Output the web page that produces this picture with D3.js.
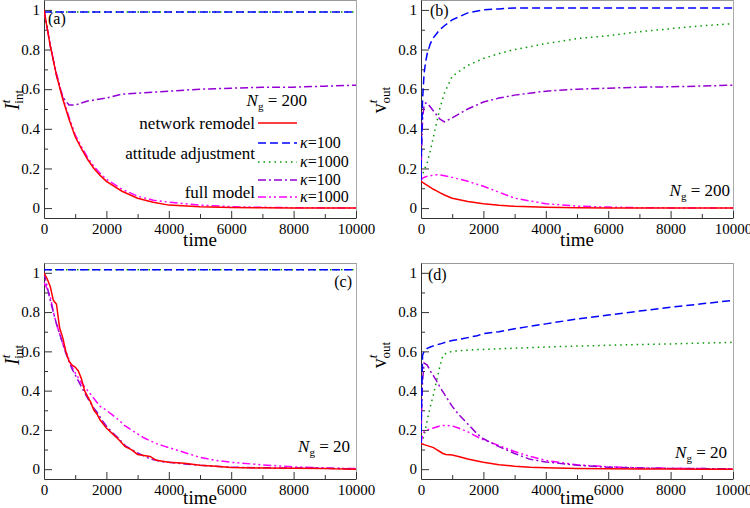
<!DOCTYPE html>
<html>
<head>
<meta charset="utf-8">
<script src="https://cdn.jsdelivr.net/npm/d3@7"></script>
<style>
  body { margin: 0; background: #fff; }
  svg text { font-family: "Liberation Serif", "DejaVu Serif", "Times New Roman", serif; }
</style>
</head>
<body>
<svg id="chart" width="750" height="508"></svg>
<script>
// time grids
const tA = [0, 200, 400, 600, 800, 1000, 1200, 1400, 1600, 1800, 2000, 2500, 3000, 3500, 4000, 5000, 6000, 7000, 8000, 9000, 10000];
const tB = [0, 20, 50, 100, 150, 200, 300, 400, 500, 600, 750, 1000, 1500, 2000, 2500, 3000, 4000, 5000, 6000, 7000, 8000, 9000, 10000];
const tC = [0, 100, 200, 300, 400, 500, 600, 700, 800, 900, 1000, 1100, 1200, 1300, 1400, 1500, 1600, 1700, 1800, 1900, 2000, 2200, 2400, 2600, 2800, 3000, 3200, 3400, 3600, 3800, 4000, 4500, 5000, 5500, 6000, 7000, 8000, 9000, 9300, 10000];
const tD = [0, 20, 50, 100, 200, 300, 400, 500, 600, 700, 800, 1000, 1200, 1500, 1800, 2000, 2500, 3000, 3500, 4000, 5000, 6000, 7000, 8000, 9000, 10000];
const tFlat = [0, 10000];

// (a) I_int, N_g = 200
const aRemodel = [1.0, 0.82, 0.67, 0.55, 0.45, 0.36, 0.30, 0.245, 0.20, 0.165, 0.135, 0.085, 0.05, 0.03, 0.015, 0.007, 0.003, 0.002, 0.001, 0.0005, 0];
const aAtt100 = [0.99, 0.99];
const aAtt1000 = [0.99, 0.99];
const aFull100 = [1.0, 0.82, 0.67, 0.56, 0.52, 0.52, 0.53, 0.54, 0.545, 0.55, 0.555, 0.575, 0.58, 0.585, 0.59, 0.6, 0.605, 0.61, 0.61, 0.615, 0.62];
const aFull1000 = [1.0, 0.82, 0.68, 0.56, 0.46, 0.37, 0.31, 0.255, 0.21, 0.175, 0.145, 0.095, 0.06, 0.04, 0.03, 0.015, 0.007, 0.004, 0.002, 0.001, 0.001];

// (b) v_out, N_g = 200
const bRemodel = [0.135, 0.133, 0.13, 0.125, 0.12, 0.115, 0.105, 0.095, 0.087, 0.078, 0.066, 0.05, 0.033, 0.022, 0.014, 0.009, 0.004, 0.002, 0.001, 0.0005, 0, 0, 0];
const bAtt100 = [0.14, 0.35, 0.55, 0.68, 0.74, 0.78, 0.83, 0.86, 0.88, 0.9, 0.92, 0.95, 0.985, 1.0, 1.005, 1.01, 1.01, 1.01, 1.01, 1.01, 1.01, 1.01, 1.01];
const bAtt1000 = [0.15, 0.16, 0.17, 0.19, 0.21, 0.23, 0.29, 0.36, 0.43, 0.5, 0.58, 0.665, 0.72, 0.755, 0.78, 0.8, 0.83, 0.855, 0.87, 0.89, 0.905, 0.92, 0.93];
const bFull100 = [0.15, 0.3, 0.45, 0.52, 0.53, 0.53, 0.51, 0.49, 0.47, 0.45, 0.435, 0.455, 0.5, 0.535, 0.555, 0.57, 0.59, 0.6, 0.605, 0.61, 0.612, 0.616, 0.62];
const bFull1000 = [0.14, 0.145, 0.15, 0.155, 0.158, 0.16, 0.163, 0.166, 0.168, 0.167, 0.163, 0.155, 0.135, 0.11, 0.08, 0.05, 0.022, 0.01, 0.005, 0.002, 0.001, 0.001, 0];

// (c) I_int, N_g = 20
const cRemodel = [1.0, 0.97, 0.93, 0.86, 0.84, 0.72, 0.67, 0.6, 0.55, 0.53, 0.52, 0.5, 0.46, 0.4, 0.37, 0.34, 0.3, 0.28, 0.25, 0.23, 0.21, 0.18, 0.15, 0.115, 0.1, 0.075, 0.07, 0.065, 0.045, 0.04, 0.035, 0.03, 0.02, 0.015, 0.008, 0.006, 0.005, 0.004, 0.002, 0];
const cAtt100 = [1.015, 1.015];
const cAtt1000 = [1.015, 1.015];
const cFull100 = [1.0, 0.93, 0.86, 0.8, 0.74, 0.69, 0.64, 0.59, 0.55, 0.51, 0.48, 0.45, 0.42, 0.39, 0.36, 0.335, 0.31, 0.29, 0.265, 0.24, 0.22, 0.185, 0.155, 0.12, 0.1, 0.083, 0.068, 0.052, 0.045, 0.038, 0.035, 0.027, 0.02, 0.015, 0.01, 0.007, 0.006, 0.005, 0.004, 0];
const cFull1000 = [0.95, 0.92, 0.88, 0.8, 0.74, 0.69, 0.64, 0.6, 0.56, 0.52, 0.49, 0.465, 0.44, 0.42, 0.4, 0.38, 0.36, 0.34, 0.32, 0.31, 0.3, 0.275, 0.25, 0.22, 0.2, 0.18, 0.16, 0.145, 0.13, 0.12, 0.11, 0.085, 0.06, 0.045, 0.035, 0.022, 0.012, 0.006, 0.005, 0.003];

// (d) v_out, N_g = 20
const dRemodel = [0.13, 0.13, 0.128, 0.125, 0.12, 0.115, 0.11, 0.1, 0.09, 0.08, 0.075, 0.072, 0.065, 0.052, 0.042, 0.035, 0.023, 0.015, 0.01, 0.007, 0.004, 0.002, 0.001, 0.001, 0, 0];
const dAtt100 = [0.13, 0.35, 0.58, 0.6, 0.615, 0.622, 0.628, 0.633, 0.637, 0.642, 0.647, 0.655, 0.66, 0.67, 0.68, 0.69, 0.7, 0.715, 0.728, 0.74, 0.765, 0.785, 0.805, 0.825, 0.842, 0.86];
const dAtt1000 = [0.13, 0.14, 0.15, 0.17, 0.25, 0.32, 0.38, 0.45, 0.52, 0.58, 0.59, 0.6, 0.603, 0.606, 0.609, 0.61, 0.613, 0.616, 0.619, 0.622, 0.627, 0.631, 0.635, 0.638, 0.642, 0.646];
const dFull100 = [0.13, 0.3, 0.45, 0.54, 0.53, 0.5, 0.475, 0.45, 0.42, 0.395, 0.37, 0.32, 0.28, 0.23, 0.18, 0.155, 0.115, 0.08, 0.05, 0.037, 0.02, 0.01, 0.006, 0.004, 0.003, 0.002];
const dFull1000 = [0.13, 0.15, 0.17, 0.19, 0.2, 0.205, 0.21, 0.215, 0.22, 0.222, 0.223, 0.22, 0.21, 0.19, 0.165, 0.15, 0.12, 0.09, 0.065, 0.045, 0.022, 0.012, 0.007, 0.005, 0.003, 0.002];

const xTicks = [0, 2000, 4000, 6000, 8000, 10000];
const yTicks = [0, 0.2, 0.4, 0.6, 0.8, 1];

// line styles, one per series kind
const styles = {
  remodel: { color: "#ff0000", dash: null },
  att100: { color: "#0000ff", dash: "8,4" },
  att1000: { color: "#009a00", dash: "1.5,4" },
  full100: { color: "#9400d3", dash: "8,3,2,3" },
  full1000: { color: "#ff00ff", dash: "8,3,2,3,2,3" },
};

const panels = [
  { id: "a", x0: 44, x1: 356, y0: 0, y1: 218, ylab: "I", ysub: "int", ng: "200",
    series: [["att1000", tFlat, aAtt1000], ["att100", tFlat, aAtt100], ["full1000", tA, aFull1000], ["full100", tA, aFull100], ["remodel", tA, aRemodel]] },
  { id: "b", x0: 421, x1: 733, y0: 0, y1: 218, ylab: "v", ysub: "out", ng: "200",
    series: [["att1000", tB, bAtt1000], ["full1000", tB, bFull1000], ["full100", tB, bFull100], ["att100", tB, bAtt100], ["remodel", tB, bRemodel]] },
  { id: "c", x0: 44, x1: 356, y0: 263, y1: 479, ylab: "I", ysub: "int", ng: "20",
    series: [["att1000", tFlat, cAtt1000], ["att100", tFlat, cAtt100], ["full1000", tC, cFull1000], ["full100", tC, cFull100], ["remodel", tC, cRemodel]] },
  { id: "d", x0: 421, x1: 733, y0: 263, y1: 479, ylab: "v", ysub: "out", ng: "20",
    series: [["att1000", tD, dAtt1000], ["full1000", tD, dFull1000], ["full100", tD, dFull100], ["att100", tD, dAtt100], ["remodel", tD, dRemodel]] },
];

const svg = d3.select("#chart");

panels.forEach(p => {
  const x = d3.scaleLinear().domain([0, 10000]).range([p.x0, p.x1]);
  const y = d3.scaleLinear().domain([-0.05, 1.05]).range([p.y1, p.y0]);
  const g = svg.append("g");

  g.append("clipPath").attr("id", "clip-" + p.id)
    .append("rect").attr("x", p.x0).attr("y", p.y0).attr("width", p.x1 - p.x0).attr("height", p.y1 - p.y0);

  // frame: top/right lighter
  g.append("line").attr("x1", p.x0).attr("x2", p.x1).attr("y1", p.y0 + 0.5).attr("y2", p.y0 + 0.5).attr("stroke", "#999");
  g.append("line").attr("x1", p.x1 + 0.5).attr("x2", p.x1 + 0.5).attr("y1", p.y0).attr("y2", p.y1).attr("stroke", "#aaa");

  // axes with inward ticks
  const xAxis = d3.axisBottom(x).tickValues(xTicks).tickFormat(d3.format("d")).tickSizeInner(-7).tickSizeOuter(0).tickPadding(5);
  const gx = g.append("g").attr("transform", `translate(0,${p.y1})`).call(xAxis).attr("font-family", null);
  gx.selectAll("text").attr("font-size", 15).attr("fill", "#000");
  gx.selectAll("line, path").attr("stroke", "#333");
  g.append("g").attr("transform", `translate(0,${p.y1})`)
    .call(d3.axisBottom(x).tickValues(d3.range(1000, 10000, 2000)).tickSize(-4).tickFormat(""))
    .call(s => s.select("path").remove())
    .selectAll("line").attr("stroke", "#333");

  const yAxis = d3.axisLeft(y).tickValues(yTicks).tickFormat(d3.format("")).tickSizeInner(-8).tickSizeOuter(0).tickPadding(4);
  const gy = g.append("g").attr("transform", `translate(${p.x0},0)`).call(yAxis).attr("font-family", null);
  gy.selectAll("text").attr("font-size", 15).attr("fill", "#000");
  gy.selectAll("line, path").attr("stroke", "#333");
  g.append("g").attr("transform", `translate(${p.x0},0)`)
    .call(d3.axisLeft(y).tickValues([0.1, 0.3, 0.5, 0.7, 0.9]).tickSize(-4).tickFormat(""))
    .call(s => s.select("path").remove())
    .selectAll("line").attr("stroke", "#333");

  // curves
  const line = d3.line().x(d => x(d[0])).y(d => y(d[1]));
  p.series.forEach(([kind, ts, vs]) => {
    const st = styles[kind];
    g.append("path")
      .datum(ts.map((t, i) => [t, vs[i]]))
      .attr("clip-path", `url(#clip-${p.id})`)
      .attr("d", line)
      .attr("fill", "none")
      .attr("stroke", st.color)
      .attr("stroke-width", 1.5)
      .attr("stroke-dasharray", st.dash);
  });

  // x label
  g.append("text").attr("x", (p.x0 + p.x1) / 2).attr("y", p.y1 + (p.y0 > 0 ? 25 : 28))
    .attr("text-anchor", "middle").attr("font-size", 19).text("time");

  // y label
  const ly = p.y0 + (p.id === "c" || p.id === "d" ? 92 : 100);
  const lx = p.id === "a" || p.id === "c" ? 19 : 386;
  const yl = g.append("text").attr("transform", `translate(${lx},${ly}) rotate(-90)`)
    .attr("text-anchor", "middle").attr("font-size", 20);
  yl.append("tspan").attr("font-style", p.ylab === "I" ? "italic" : "normal").text(p.ylab);
  yl.append("tspan").attr("font-size", 13).attr("font-style", "italic").attr("dy", -9).text("t");
  yl.append("tspan").attr("font-size", 13).attr("dx", -4).attr("dy", 13).text(p.ysub);
});

// panel letters
const lab = [["(a)", 48, 24, "start"], ["(b)", 430, 16, "start"], ["(c)", 352, 287, "end"], ["(d)", 428, 280, "start"]];
svg.selectAll("text.plab").data(lab).enter().append("text").attr("class", "plab")
  .attr("x", d => d[1]).attr("y", d => d[2]).attr("text-anchor", d => d[3]).attr("font-size", 16).text(d => d[0]);

// N_g annotations
function ngText(xr, yb, val) {
  const t = svg.append("text").attr("x", xr).attr("y", yb).attr("text-anchor", "end").attr("font-size", 17);
  t.append("tspan").attr("font-style", "italic").text("N");
  t.append("tspan").attr("font-size", 11).attr("dy", 4).text("g");
  t.append("tspan").attr("dy", -4).text(" = " + val);
}
ngText(307, 106, "200");
ngText(730, 196, "200");
ngText(350, 452, "20");
ngText(727, 458, "20");

// legend in panel (a)
const legRows = [
  { label: "network remodel", y: 123, kind: "remodel", k: null, ty: 129 },
  { label: "attitude adjustment", y: 143, kind: "att100", k: "100", ty: 159 },
  { label: null, y: 162, kind: "att1000", k: "1000" },
  { label: "full model", y: 180, kind: "full100", k: "100", ty: 198 },
  { label: null, y: 197, kind: "full1000", k: "1000" },
];
legRows.forEach(r => {
  const st = styles[r.kind];
  svg.append("line").attr("x1", 258).attr("x2", 297).attr("y1", r.y).attr("y2", r.y)
    .attr("stroke", st.color).attr("stroke-width", 1.5).attr("stroke-dasharray", st.dash);
  if (r.label) {
    svg.append("text").attr("x", 255).attr("y", r.ty).attr("text-anchor", "end").attr("font-size", 17).text(r.label);
  }
  if (r.k) {
    const t = svg.append("text").attr("x", 300).attr("y", r.y + 5).attr("font-size", 16);
    t.append("tspan").attr("font-style", "italic").text("κ");
    t.append("tspan").text("=" + r.k);
  }
});
</script>
</body>
</html>
